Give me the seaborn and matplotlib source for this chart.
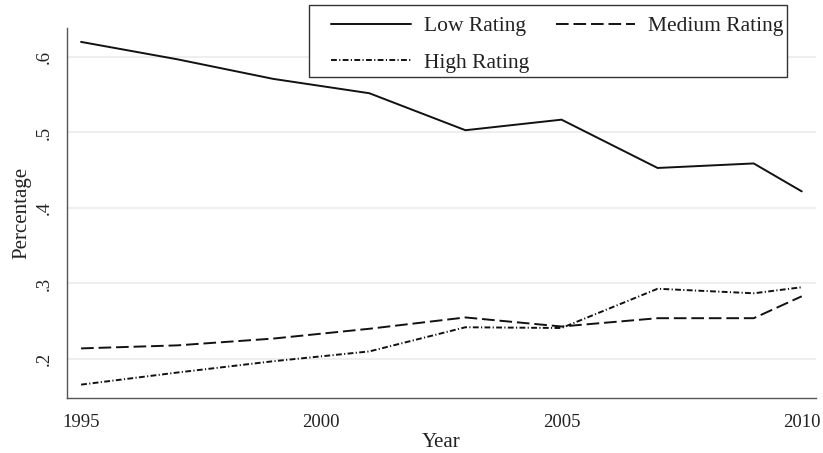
import pandas as pd
import numpy as np
import matplotlib
matplotlib.use("Agg")
import matplotlib.pyplot as plt
from matplotlib.patches import Rectangle
import seaborn as sns

years = [1995, 1997, 1999, 2001, 2003, 2005, 2007, 2009, 2010]
low = [0.620, 0.597, 0.571, 0.552, 0.503, 0.517, 0.453, 0.459, 0.422]
medium = [0.214, 0.218, 0.227, 0.240, 0.255, 0.243, 0.254, 0.254, 0.283]
high = [0.166, 0.182, 0.197, 0.210, 0.242, 0.241, 0.293, 0.287, 0.295]
yticks = [0.2, 0.3, 0.4, 0.5, 0.6]
xticks = [1995, 2000, 2005, 2010]

sns.set_style("white")
plt.rcParams['font.family'] = ['Liberation Serif', 'DejaVu Serif']

df = pd.DataFrame({'Year': years, 'Low': low, 'Medium': medium, 'High': high})

W, H = 823, 453
fig = plt.figure(figsize=(W / 100, H / 100), dpi=100)
ax = fig.add_axes([0.081, 0.1221, 0.9101, 0.8154])

lw = 1.4
sns.lineplot(data=df, x='Year', y='Low', ax=ax, color='#111111', lw=lw,
             linestyle='-', label='Low Rating')
sns.lineplot(data=df, x='Year', y='Medium', ax=ax, color='#111111', lw=lw,
             linestyle=(0, (6.5, 2.5)), label='Medium Rating')
sns.lineplot(data=df, x='Year', y='High', ax=ax, color='#111111', lw=lw,
             linestyle=(0, (3, 1.2, 0.6, 1.2)), label='High Rating')

ax.set_xlim(1994.70, 2010.29)
ax.set_ylim(0.1487, 0.638)
ax.set_xticks(xticks)
ax.set_xticklabels([str(x) for x in xticks])
ax.set_yticks(yticks)
ax.set_yticklabels([f"{v:.1f}".lstrip('0') for v in yticks], rotation=90, va='center')

# stata-like grid and axes
ax.grid(axis='y', color='#eeeeee', lw=1.4)
ax.grid(axis='x', visible=False)
for s in ['top', 'right']:
    ax.spines[s].set_visible(False)
for s in ['left', 'bottom']:
    ax.spines[s].set_color('#555555')
    ax.spines[s].set_linewidth(1.0)
ax.tick_params(axis='both', direction='out', length=6, width=1.0, color='#555555',
               labelsize=13.5, labelcolor='#222222')
ax.tick_params(axis='y', pad=4)
ax.tick_params(axis='x', pad=6)

ax.set_xlabel('Year', fontsize=15, color='#222222', labelpad=1)
ax.set_ylabel('Percentage', fontsize=15, color='#222222', labelpad=3)

ax.get_legend().remove()
h, l = ax.get_legend_handles_labels()
order = [0, 2, 1]
leg = fig.legend([h[i] for i in order], [l[i] for i in order], ncol=2,
                 loc='upper left', bbox_to_anchor=(331 / W, 1 - 16 / H),
                 fontsize=15.5, frameon=False,
                 handlelength=3.7, handletextpad=0.6, columnspacing=1.25,
                 labelspacing=0.78, borderpad=0, borderaxespad=0)
for t in leg.get_texts():
    t.set_color('#222222')

# legend box drawn separately (stata pads the left side more)
fig.patches.append(Rectangle((309 / W, 1 - 77 / H), (787 - 309) / W, 72 / H,
                             transform=fig.transFigure, fill=True, facecolor='white',
                             edgecolor='#333333', lw=1.0, zorder=5))
leg.set_zorder(6)

plt.savefig('out.png', dpi=100)
